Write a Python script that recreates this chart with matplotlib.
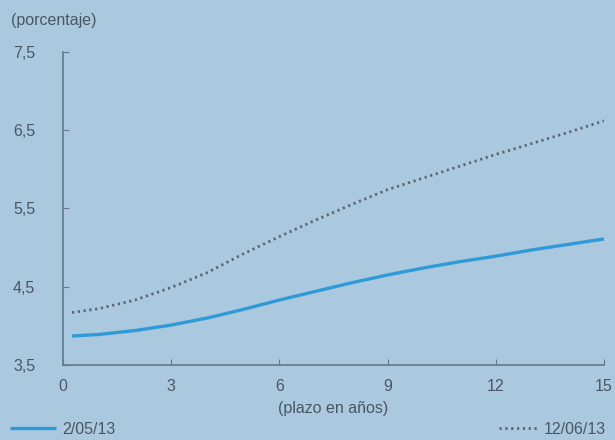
import matplotlib
matplotlib.use("Agg")
import matplotlib.pyplot as plt

plazo = [0.25, 1, 2, 3, 4, 5, 6, 7, 8, 9, 10, 11, 12, 13, 14, 15]
curva_0205 = [3.87, 3.89, 3.94, 4.01, 4.10, 4.21, 4.33, 4.44, 4.55, 4.65, 4.74, 4.82, 4.89, 4.97, 5.04, 5.11]
curva_1206 = [4.17, 4.22, 4.33, 4.49, 4.68, 4.92, 5.14, 5.35, 5.55, 5.74, 5.89, 6.04, 6.19, 6.33, 6.47, 6.62]
xticks = [0, 3, 6, 9, 12, 15]
yticks = [3.5, 4.5, 5.5, 6.5, 7.5]
ytick_labels = ["3,5", "4,5", "5,5", "6,5", "7,5"]
label_a = "2/05/13"
label_b = "12/06/13"

bg = "#aac9de"
txt = "#4a5664"
spine = "#66788a"
fs = 11.5

plt.rcParams['font.family'] = ['Liberation Sans', 'DejaVu Sans']

fig = plt.figure(figsize=(6.15, 4.40), dpi=100, facecolor=bg)
ax = fig.add_axes([0.1024, 0.1705, 0.8796, 0.7115])
ax.set_facecolor(bg)

la, = ax.plot(plazo, curva_0205, color="#2f9ad8", lw=2.4, solid_capstyle="butt")
lb, = ax.plot(plazo, curva_1206, color="#5b6673", lw=2.0, linestyle=(0, (0.8, 1.3)))

ax.set_xlim(0, 15)
ax.set_ylim(3.5, 7.5)
ax.set_xticks(xticks)
ax.set_xticklabels([str(t) for t in xticks])
ax.set_yticks(yticks)
ax.set_yticklabels(ytick_labels)

for s in ["top", "right"]:
    ax.spines[s].set_visible(False)
for s in ["left", "bottom"]:
    ax.spines[s].set_color(spine)
    ax.spines[s].set_linewidth(1.2)

ax.tick_params(axis="x", direction="in", length=4, color=spine, labelcolor=txt,
               labelsize=fs, pad=10)
ax.tick_params(axis="y", direction="in", length=4, color=spine, labelcolor=txt,
               labelsize=fs, pad=20)

ax.set_xlabel("(plazo en años)", color=txt, fontsize=fs, labelpad=5)
fig.text(0.018, 0.953, "(porcentaje)", color=txt, fontsize=fs, ha="left", va="center")

leg1 = fig.legend([la], [label_a], loc="lower left", bbox_to_anchor=(0.0, -0.014),
                  frameon=False, fontsize=fs, handlelength=2.9, handletextpad=0.4,
                  labelcolor=txt, borderaxespad=0.2)
leg2 = fig.legend([lb], [label_b], loc="lower right", bbox_to_anchor=(1.0, -0.014),
                  frameon=False, fontsize=fs, handlelength=2.4, handletextpad=0.4,
                  labelcolor=txt, borderaxespad=0.2)

fig.savefig("out.png", dpi=100, facecolor=bg)
